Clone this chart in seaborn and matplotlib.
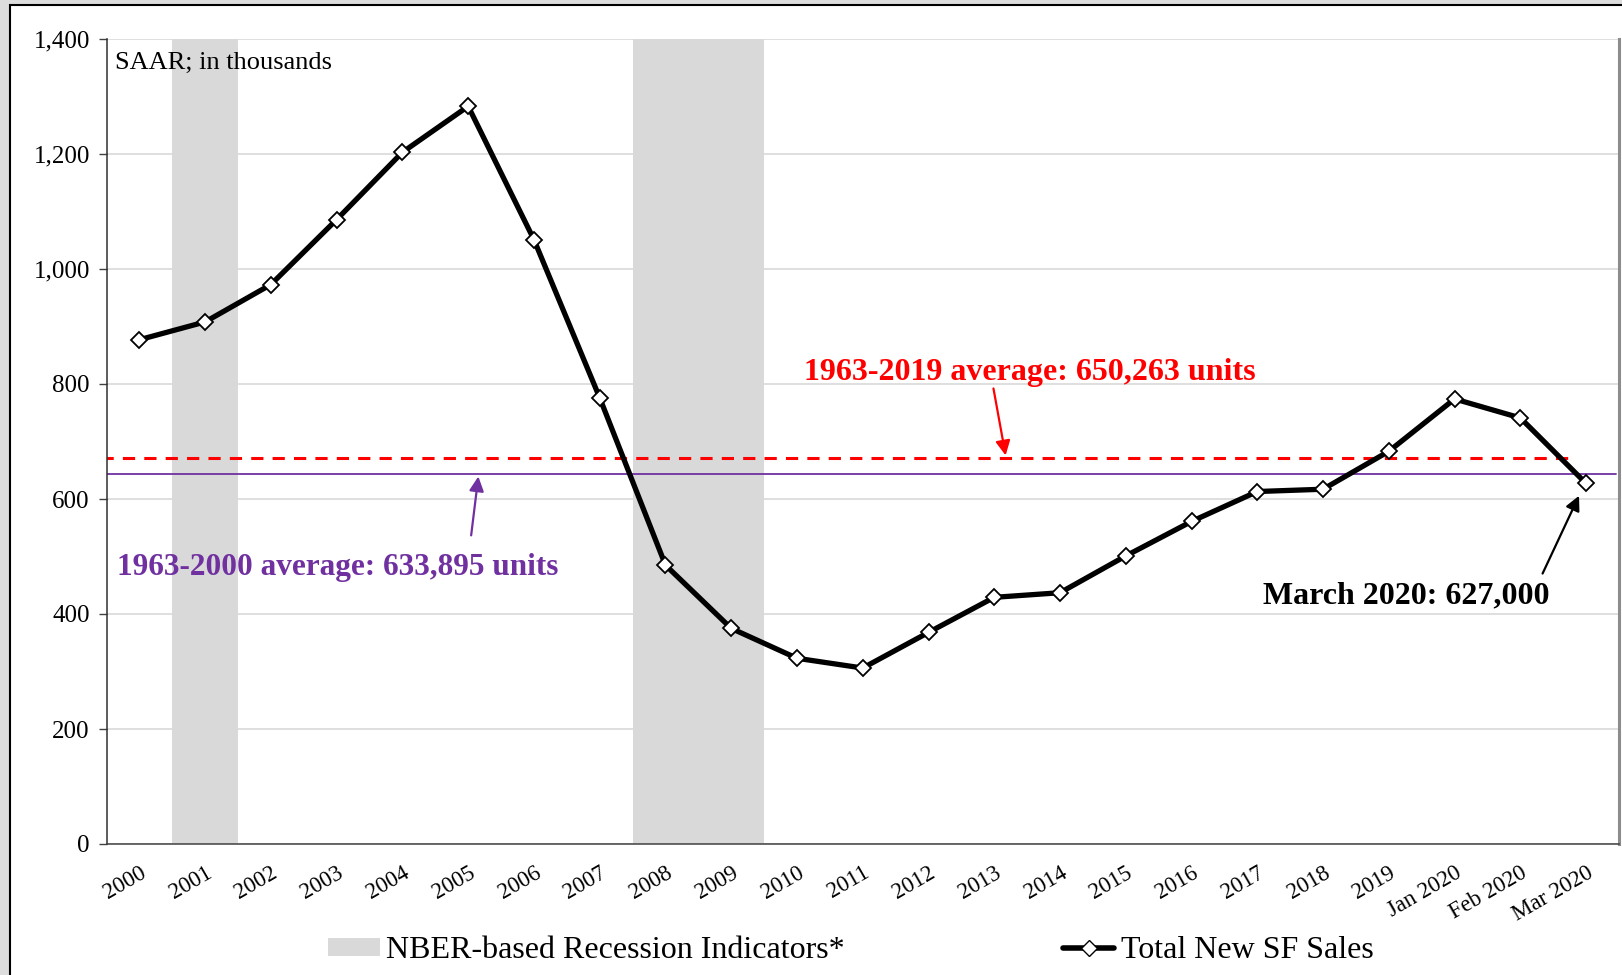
import numpy as np
import pandas as pd
import matplotlib
matplotlib.use('Agg')
import matplotlib.pyplot as plt
import seaborn as sns
from matplotlib.patches import Patch, Rectangle
from matplotlib.lines import Line2D

# new single-family home sales, SAAR in thousands
periods = ['2000', '2001', '2002', '2003', '2004', '2005', '2006', '2007', '2008', '2009',
           '2010', '2011', '2012', '2013', '2014', '2015', '2016', '2017', '2018', '2019',
           'Jan 2020', 'Feb 2020', 'Mar 2020']
sales = [877, 908, 973, 1086, 1203, 1283, 1051, 776, 485, 375,
         323, 306, 368, 429, 437, 501, 561, 613, 617, 683,
         774, 741, 627]
recession_periods = ['2001', '2008', '2009']

# the two average lines as drawn in the picture
avg_1963_2019 = 671
avg_1963_2000 = 644

df = pd.DataFrame({'period': periods, 'sales': sales})
df['idx'] = range(len(df))

sns.set_style('white')
plt.rcParams['font.family'] = ['Liberation Serif', 'DejaVu Serif']
plt.rcParams['text.color'] = 'black'
plt.rcParams['xtick.color'] = 'black'
plt.rcParams['ytick.color'] = 'black'

W, H = 1622, 975
fig = plt.figure(figsize=(W / 100, H / 100), dpi=100, facecolor='#dddddd')
fig.patches.append(Rectangle((10 / W, -0.01), 1.1, 1 - 5 / H + 0.01, transform=fig.transFigure,
                             facecolor='white', edgecolor='black', lw=1.5, zorder=-10))

ax = fig.add_axes([106.5 / W, 1 - 844 / H, (1619 - 106.5) / W, (844 - 39) / H])
ax.set_facecolor('white')

# recession bars
for p in recession_periods:
    i = periods.index(p)
    ax.axvspan(i - 0.5, i + 0.5, color='#d9d9d9', lw=0, zorder=1)

# average lines
ax.plot([-0.58, 21.8], [avg_1963_2019] * 2, color='red', lw=2.2, ls=(0, (4, 3)), zorder=2)
ax.plot([-0.58, 22.45], [avg_1963_2000] * 2, color='#7030a0', lw=1.3, zorder=2)

sns.lineplot(data=df, x='idx', y='sales', ax=ax, color='black', lw=3.8, marker='D',
             markersize=8.5, markerfacecolor='white', markeredgecolor='black',
             markeredgewidth=1.3, zorder=3)

ax.set_xlim(-0.5, len(periods) - 0.5)
ax.set_ylim(0, 1400)
ax.set_yticks(range(0, 1401, 200))
ax.set_yticklabels([f'{v:,}' for v in range(0, 1401, 200)], fontsize=18)
ax.set_xticks(range(len(periods)))
ax.set_xticklabels(periods, rotation=30, ha='right', rotation_mode='anchor', fontsize=16.5)
ax.set_xticks(np.arange(-0.5, len(periods), 1), minor=True)
ax.tick_params(axis='x', which='major', length=0, pad=13)
ax.tick_params(axis='x', which='minor', length=6, width=1, color='#404040', direction='out')
ax.tick_params(axis='y', length=6, width=1, color='#404040', direction='out', pad=6, left=True)
ax.set_xlabel('')
ax.set_ylabel('')

ax.grid(axis='y', color='#d9d9d9', lw=1.2, zorder=0)
ax.set_axisbelow(True)
ax.spines['top'].set_visible(False)
ax.spines['left'].set_color('#303030')
ax.spines['bottom'].set_color('#404040')
ax.spines['right'].set_color('#8c8c8c')
ax.spines['right'].set_linewidth(2.2)
for s in ['left', 'bottom']:
    ax.spines[s].set_linewidth(1.1)

ax.text(-0.37, 1359, 'SAAR; in thousands', fontsize=19, va='center', ha='left')

ax.text(10.11, 820, '1963-2019 average: 650,263 units', color='red', fontsize=23,
        fontweight='bold', va='center', ha='left')
ax.annotate('', xy=(13.18, avg_1963_2019), xytext=(12.98, 797),
            arrowprops=dict(arrowstyle='-|>', color='red', lw=1.6, mutation_scale=22))

ax.text(-0.34, 481, '1963-2000 average: 633,895 units', color='#7030a0', fontsize=22.5,
        fontweight='bold', va='center', ha='left')
ax.annotate('', xy=(5.16, avg_1963_2000), xytext=(5.04, 532),
            arrowprops=dict(arrowstyle='-|>', color='#7030a0', lw=1.6, mutation_scale=22))

ax.text(21.45, 431, 'March 2020: 627,000', color='black', fontsize=23,
        fontweight='bold', va='center', ha='right')
ax.annotate('', xy=(21.91, 610), xytext=(21.32, 466),
            arrowprops=dict(arrowstyle='-|>', color='black', lw=1.6, mutation_scale=22))

handles = [Patch(facecolor='#d9d9d9', edgecolor='none'),
           Line2D([], [], color='black', lw=4, marker='D', markersize=8,
                  markerfacecolor='white', markeredgecolor='black')]
fig.legend(handles, ['NBER-based Recession Indicators*', 'Total New SF Sales'],
           loc='center', bbox_to_anchor=(851 / W, 1 - 951 / H), ncol=2, frameon=False,
           fontsize=23, handlelength=1.6, handletextpad=0.2, columnspacing=6.85,
           handleheight=0.5)

fig.savefig('out.png', dpi=100)
